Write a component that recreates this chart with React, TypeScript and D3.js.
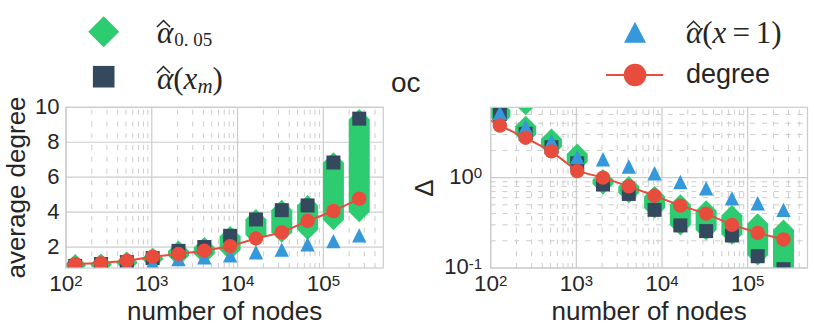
import React from "react";
import * as d3 from "d3";

// ---------- data ----------
const nodes = [64, 128, 256, 512, 1024, 2048, 4096, 8192, 16384, 32768, 65536, 131072, 262144];

// left panel: average degree
const degreeAvg = [0.95, 1.03, 1.08, 1.22, 1.45, 1.6, 1.79, 2.05, 2.49, 2.84, 3.49, 4.06, 4.77];
const xmAvg = [null, 0.92, 1.03, 1.14, 1.37, 1.78, 2.0, 2.64, 3.58, 4.11, 4.38, 6.84, 9.35];
const x1Avg = [null, 0.88, 0.93, 1.0, 1.1, 1.31, 1.41, 1.53, 1.7, 1.85, 2.15, 2.34, 2.67];
const a005Avg: [number, number][][] = [
  [], [[0.92, 1.0]], [[0.97, 1.03]], [[1.08, 1.14]], [[1.3, 1.36]], [[1.5, 1.77]], [[1.62, 1.97]],
  [[1.85, 2.6]], [[2.7, 3.58]], [[2.85, 4.1]], [[3.0, 4.38]], [[3.56, 6.82]], [[4.02, 9.3]],
];

// right panel: Delta
const degreeDelta = [5.4, 3.77, 2.76, 1.95, 1.18, 1.0, 0.8, 0.63, 0.49, 0.4, 0.3, 0.245, 0.207];
const xmDelta = [null, 5.1, 3.06, 2.17, 1.44, 0.84, 0.66, 0.44, 0.296, 0.256, 0.229, 0.135, 0.097];
const x1Delta = [null, 5.2, 3.65, 2.53, 1.69, 1.6, 1.33, 1.12, 0.895, 0.76, 0.59, 0.52, 0.44];
const a005Delta: [number, number][][] = [
  [], [[4.7, 5.6]], [[3.0, 3.7], [6.4, 6.4]], [[2.2, 2.67]], [[1.5, 1.82]], [[0.85, 0.95]], [[0.68, 0.8]],
  [[0.46, 0.62]], [[0.3, 0.5]], [[0.265, 0.43]], [[0.237, 0.38]], [[0.139, 0.308]], [[0.09, 0.263]],
];

const xTicks = [100, 1000, 10000, 100000];
const xTickExp = ["2", "3", "4", "5"];
const leftYTicks = [2, 4, 6, 8, 10];
const rightYTicks = [0.1, 1];
const rightYTickExp = ["-1", "0"];

// ---------- style ----------
const GREEN = "#2ecc71";
const DARK = "#34495e";
const BLUE = "#3498db";
const RED = "#e74c3c";
const GRID = "#cccccc";
const TEXT = "#262626";
const SANS = "'Liberation Sans', Arial, sans-serif";
const SERIF = "'Liberation Serif', 'Times New Roman', serif";

const X_DOMAIN: [number, number] = [100, 5e5];
const TOP = 107.3;
const BOTTOM = 268;

function minorTicks(lo: number, hi: number) {
  const out: number[] = [];
  for (let d = Math.floor(Math.log10(lo)) - 1; d <= Math.ceil(Math.log10(hi)); d++) {
    for (let k = 2; k <= 9; k++) {
      const v = k * Math.pow(10, d);
      if (v > lo && v < hi) out.push(v);
    }
  }
  return out;
}

type Scale = (v: number) => number;

function Panel(props: {
  id: string;
  x0: number;
  x1: number;
  y: Scale;
  yMajor: number[];
  yMinor: number[];
  degree: number[];
  xm: (number | null)[];
  x1v: (number | null)[];
  green: [number, number][][];
}) {
  const { id, x0, x1, y, yMajor, yMinor, degree, xm, x1v, green } = props;
  const x = d3.scaleLog().domain(X_DOMAIN).range([x0, x1]);
  const xMinor = minorTicks(X_DOMAIN[0], X_DOMAIN[1]);
  const dash = "5 6.8";
  const r = 10.5;
  const hex = (cx: number, lo: number, hi: number) => {
    const yt = y(hi);
    const yb = y(lo);
    return `M${cx},${yt - r}L${cx + r},${yt}L${cx + r},${yb}L${cx},${yb + r}L${cx - r},${yb}L${cx - r},${yt}Z`;
  };
  const line = d3
    .line<number>()
    .x((_, i) => x(nodes[i]))
    .y((d) => y(d));
  const s = 7;
  return (
    <g>
      <defs>
        <clipPath id={id}>
          <rect x={x0} y={TOP} width={x1 - x0} height={BOTTOM - TOP} />
        </clipPath>
      </defs>
      {xMinor.map((v) => (
        <line key={"xm" + v} x1={x(v)} x2={x(v)} y1={BOTTOM} y2={TOP} stroke={GRID} strokeWidth={1} strokeDasharray={dash} />
      ))}
      {yMinor.map((v) => (
        <line key={"ym" + v} x1={x0} x2={x1} y1={y(v)} y2={y(v)} stroke={GRID} strokeWidth={1} strokeDasharray={dash} />
      ))}
      {xTicks.map((v) => (
        <line key={"xM" + v} x1={x(v)} x2={x(v)} y1={BOTTOM} y2={TOP} stroke={GRID} strokeWidth={1.2} />
      ))}
      {yMajor.map((v) => (
        <line key={"yM" + v} x1={x0} x2={x1} y1={y(v)} y2={y(v)} stroke={GRID} strokeWidth={1.2} />
      ))}
      <g clipPath={`url(#${id})`}>
        {green.map((segs, i) =>
          segs.map((sg, j) => <path key={`g${i}-${j}`} d={hex(x(nodes[i]), sg[0], sg[1])} fill={GREEN} />)
        )}
        {xm.map((v, i) =>
          v == null ? null : (
            <rect key={"s" + i} x={x(nodes[i]) - s} y={y(v) - s} width={2 * s} height={2 * s} fill={DARK} />
          )
        )}
        {x1v.map((v, i) =>
          v == null ? null : (
            <path
              key={"t" + i}
              d={`M${x(nodes[i])},${y(v) - 7.2}L${x(nodes[i]) + 7.2},${y(v) + 7.2}L${x(nodes[i]) - 7.2},${y(v) + 7.2}Z`}
              fill={BLUE}
            />
          )
        )}
        <path d={line(degree) || ""} fill="none" stroke={RED} strokeWidth={2} />
        {degree.map((v, i) => (
          <circle key={"c" + i} cx={x(nodes[i])} cy={y(v)} r={7.2} fill={RED} />
        ))}
      </g>
      <rect x={x0} y={TOP} width={x1 - x0} height={BOTTOM - TOP} fill="none" stroke={GRID} strokeWidth={1.2} />
      {xTicks.map((v, i) => (
        <text key={"xl" + v} x={x(v)} y={291.3} textAnchor="middle" fontFamily={SANS} fontSize={22.5} fill={TEXT}>
          10<tspan fontSize={15} dy={-5.5}>{xTickExp[i]}</tspan>
        </text>
      ))}
      <text x={(x0 + x1) / 2} y={319.5} textAnchor="middle" fontFamily={SANS} fontSize={26} fill={TEXT}>
        number of nodes
      </text>
    </g>
  );
}

function Hat(props: { x: number; baseline: number }) {
  const { x, baseline } = props;
  const yt = baseline - 22;
  const yb = baseline - 15.5;
  return (
    <path
      d={`M${x},${yb}L${x + 6.5},${yt}L${x + 13},${yb}`}
      fill="none"
      stroke={TEXT}
      strokeWidth={1.5}
      strokeLinejoin="miter"
    />
  );
}

export default function App() {
  const yLeft = d3.scaleLinear().domain([0.8, 10]).range([BOTTOM, TOP]);
  const yRight = d3.scaleLog().domain([0.1, 6]).range([BOTTOM, TOP]);
  const rightMinor = minorTicks(0.1, 6);
  return (
    <svg width={814} height={328} style={{ position: "absolute", left: 0, top: 0, background: "#fff" }}>
      <rect width={814} height={328} fill="#fff" />
      <Panel
        id="clipL"
        x0={66}
        x1={383.3}
        y={yLeft}
        yMajor={leftYTicks}
        yMinor={[]}
        degree={degreeAvg}
        xm={xmAvg}
        x1v={x1Avg}
        green={a005Avg}
      />
      <Panel
        id="clipR"
        x0={490.7}
        x1={807.5}
        y={yRight}
        yMajor={rightYTicks}
        yMinor={rightMinor}
        degree={degreeDelta}
        xm={xmDelta}
        x1v={x1Delta}
        green={a005Delta}
      />
      {leftYTicks.map((v) => (
        <text key={"ly" + v} x={59.5} y={yLeft(v) + 7} textAnchor="end" fontFamily={SANS} fontSize={22} fill={TEXT}>
          {v}
        </text>
      ))}
      <text transform={`translate(25,187.5) rotate(-90)`} textAnchor="middle" fontFamily={SANS} fontSize={26} fill={TEXT}>
        average degree
      </text>
      {rightYTicks.map((v, i) => (
        <text key={"ry" + v} x={482} y={yRight(v) + 6.2} textAnchor="end" fontFamily={SANS} fontSize={22} fill={TEXT}>
          10<tspan fontSize={15} dy={-5.5}>{rightYTickExp[i]}</tspan>
        </text>
      ))}
      <text transform={`translate(433,188) rotate(-90)`} textAnchor="middle" fontFamily={SANS} fontSize={26} fill={TEXT}>
        Δ
      </text>
      <text x={391} y={92} fontFamily={SANS} fontSize={28} fill={TEXT}>
        oc
      </text>
      {/* legend 1 */}
      <path d="M103.7,16.2L119.2,31.7L103.7,47.2L88.2,31.7Z" fill={GREEN} />
      <Hat x={157} baseline={42.5} />
      <text x={157} y={42.5} fontFamily={SERIF} fontSize={31} fill={TEXT}>
        <tspan fontStyle="italic">α</tspan>
        <tspan fontSize={19} dy={3} dx={1}>0. 05</tspan>
      </text>
      <rect x={92.9} y={65.9} width={21.6} height={21.6} fill={DARK} />
      <Hat x={157} baseline={88.5} />
      <text x={157} y={88.5} fontFamily={SERIF} fontSize={31} fill={TEXT}>
        <tspan fontStyle="italic">α</tspan>
        <tspan>(</tspan>
        <tspan fontStyle="italic">x</tspan>
        <tspan fontStyle="italic" fontSize={21} dy={4}>m</tspan>
        <tspan dy={-4}>)</tspan>
      </text>
      {/* legend 2 */}
      <path d="M635,21.7L646,42.7L624,42.7Z" fill={BLUE} />
      <Hat x={687} baseline={43.3} />
      <text x={686} y={43.3} fontFamily={SERIF} fontSize={31} fill={TEXT}>
        <tspan fontStyle="italic">α</tspan>
        <tspan>(</tspan>
        <tspan fontStyle="italic">x</tspan>
        <tspan dx={6}>=</tspan>
        <tspan dx={6}>1</tspan>
        <tspan>)</tspan>
      </text>
      <line x1={606} x2={663.3} y1={75} y2={75} stroke={RED} strokeWidth={2} />
      <circle cx={635} cy={75} r={11.3} fill={RED} />
      <text x={686} y={83.3} fontFamily={SANS} fontSize={27} fill={TEXT}>
        degree
      </text>
    </svg>
  );
}
